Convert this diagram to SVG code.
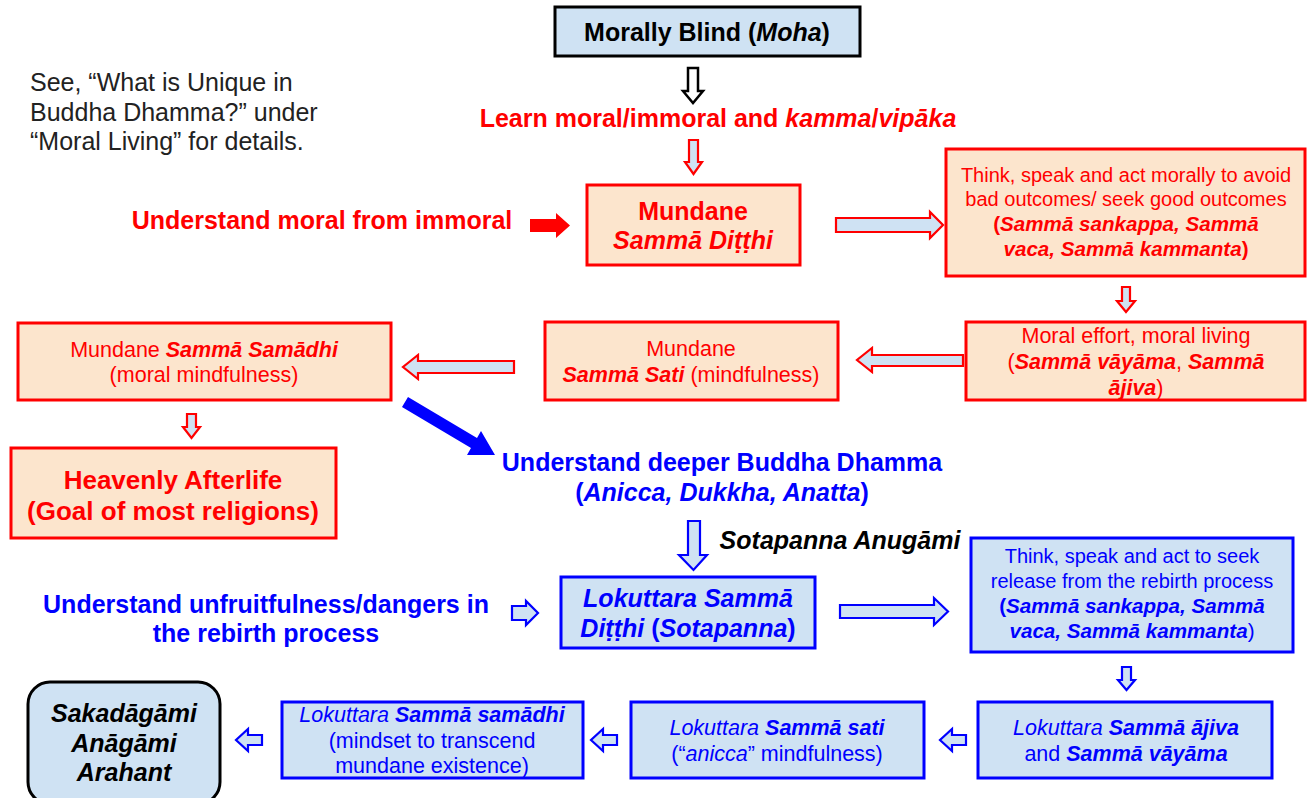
<svg xmlns="http://www.w3.org/2000/svg" width="1311" height="798" viewBox="0 0 1311 798">
<style>
text{font-family:"Liberation Sans",Arial,"DejaVu Sans",sans-serif;text-anchor:middle}
.b{font-weight:bold}
.i{font-style:italic}
.bi{font-weight:bold;font-style:italic}
.red{fill:#ff0000}
.blue{fill:#0000ff}
.blk{fill:#000000}
.L{font-size:25px}
.M{font-size:21.5px}
.S{font-size:20px}
.S2{font-size:20.6px}
.rbox{fill:#fce5cd;stroke:#ff0000;stroke-width:3}
.bbox{fill:#cfe2f3;stroke:#0000ff;stroke-width:3}
.kbox{fill:#cfe2f3;stroke:#000000;stroke-width:3}
.ra{fill:#cfe2f3;stroke:#ff0000;stroke-width:2.2;stroke-linejoin:miter}
.ba{fill:#cfe2f3;stroke:#0000ff;stroke-width:2.2;stroke-linejoin:miter}
.note{font-size:25px;text-anchor:start;fill:#222222}
</style>

<g id="note">
<text x="30" y="91" class="note">See, “What is Unique in</text>
<text x="30" y="121" class="note">Buddha Dhamma?” under</text>
<text x="30" y="150" class="note">“Moral Living” for details.</text>
</g>

<g id="moha">
<rect x="555" y="7" width="305" height="49" class="kbox"/>
<text x="707" y="41" class="L b blk">Morally Blind (<tspan class="i">Moha</tspan>)</text>
</g>

<g id="learn">
<text x="718" y="127" class="L b red">Learn moral/immoral and <tspan class="i">kamma</tspan>/<tspan class="i">vipāka</tspan></text>
</g>

<g id="understand-moral">
<text x="322" y="229" class="L b red">Understand moral from immoral</text>
</g>

<g id="mundane-ditthi">
<rect x="587" y="185" width="213" height="80" class="rbox"/>
<text x="693" y="220" class="L b red">Mundane</text>
<text x="693" y="249" class="L bi red">Sammā Diṭṭhi</text>
</g>

<g id="think-moral">
<rect x="946" y="149" width="359" height="127" class="rbox"/>
<text x="1126" y="182" class="S red">Think, speak and act morally to avoid</text>
<text x="1126" y="206" class="S red">bad outcomes/ seek good outcomes</text>
<text x="1126" y="231" class="S2 bi red"><tspan class="b" style="font-style:normal">(</tspan>Sammā sankappa, Sammā</text>
<text x="1126" y="256" class="S2 bi red">vaca, Sammā kammanta<tspan class="b" style="font-style:normal">)</tspan></text>
</g>

<g id="moral-effort">
<rect x="966" y="322" width="339" height="78" class="rbox"/>
<text x="1136" y="343" class="M red">Moral effort, moral living</text>
<text x="1136" y="369" class="M red">(<tspan class="bi">Sammā vāyāma</tspan>, <tspan class="bi">Sammā</tspan></text>
<text x="1136" y="395" class="M red"><tspan class="bi">ājiva</tspan>)</text>
</g>

<g id="mundane-sati">
<rect x="545" y="322" width="293" height="78" class="rbox"/>
<text x="691" y="356" class="M red">Mundane</text>
<text x="691" y="382" class="M red"><tspan class="bi">Sammā Sati</tspan> (mindfulness)</text>
</g>

<g id="mundane-samadhi">
<rect x="18" y="323" width="373" height="77" class="rbox"/>
<text x="204" y="357" class="M red">Mundane <tspan class="bi">Sammā Samādhi</tspan></text>
<text x="204" y="382" class="M red">(moral mindfulness)</text>
</g>

<g id="heavenly">
<rect x="11" y="448" width="325" height="90" class="rbox"/>
<text x="173" y="489" class="b red" style="font-size:26px">Heavenly Afterlife</text>
<text x="173" y="520" class="b red" style="font-size:26px">(Goal of most religions)</text>
</g>

<g id="deeper">
<text x="722" y="471" class="L b blue">Understand deeper Buddha Dhamma</text>
<text x="722" y="501" class="L b blue">(<tspan class="i">Anicca, Dukkha, Anatta</tspan>)</text>
</g>

<g id="sotapanna-anugami">
<text x="840" y="549" class="bi blk" style="font-size:25px">Sotapanna Anugāmi</text>
</g>

<g id="unfruitful">
<text x="266" y="613" class="L b blue">Understand unfruitfulness/dangers in</text>
<text x="266" y="642" class="L b blue">the rebirth process</text>
</g>

<g id="lokuttara-ditthi">
<rect x="561" y="577" width="254" height="71" class="bbox"/>
<text x="688" y="607" class="L bi blue">Lokuttara Sammā</text>
<text x="688" y="637" class="L bi blue">Diṭṭhi <tspan style="font-style:normal">(</tspan>Sotapanna<tspan style="font-style:normal">)</tspan></text>
</g>

<g id="think-release">
<rect x="971" y="538" width="322" height="114" class="bbox"/>
<text x="1132" y="563" class="S blue">Think, speak and act to seek</text>
<text x="1132" y="588" class="S blue">release from the rebirth process</text>
<text x="1132" y="613" class="S2 bi blue"><tspan style="font-style:normal">(</tspan>Sammā sankappa, Sammā</text>
<text x="1132" y="638" class="S2 bi blue">vaca, Sammā kammanta<tspan style="font-weight:normal;font-style:normal">)</tspan></text>
</g>

<g id="lokuttara-ajiva">
<rect x="978" y="702" width="294" height="76" class="bbox"/>
<text x="1126" y="735" class="M blue"><tspan class="i">Lokuttara </tspan><tspan class="bi">Sammā ājiva</tspan></text>
<text x="1126" y="761" class="M blue">and <tspan class="bi">Sammā vāyāma</tspan></text>
</g>

<g id="lokuttara-sati">
<rect x="631" y="702" width="293" height="76" class="bbox"/>
<text x="777" y="735" class="M blue"><tspan class="i">Lokuttara </tspan><tspan class="bi">Sammā sati</tspan></text>
<text x="777" y="761" class="M blue">(“<tspan class="i">anicca</tspan>” mindfulness)</text>
</g>

<g id="lokuttara-samadhi">
<rect x="282" y="702" width="301" height="76" class="bbox"/>
<text x="432" y="722" class="M blue"><tspan class="i">Lokuttara </tspan><tspan class="bi">Sammā samādhi</tspan></text>
<text x="432" y="748" class="M blue">(mindset to transcend</text>
<text x="432" y="773" class="M blue">mundane existence)</text>
</g>

<g id="arahant">
<rect x="28" y="682" width="192" height="122" rx="22" ry="22" class="kbox"/>
<text x="124" y="722" class="L bi blk">Sakadāgāmi</text>
<text x="124" y="752" class="L bi blk">Anāgāmi</text>
<text x="124" y="781" class="L bi blk">Arahant</text>
</g>

<g id="connectors">
<path d="M688,68 H698 V91 H703 L693,103 L683,91 H688 Z" fill="#ffffff" stroke="#000000" stroke-width="2.5"/>
<path d="M689,140 H698 V162 H702 L693.5,174 L685,162 H689 Z" class="ra"/>
<path d="M530,219 H556 V213 L570,225.5 L556,238 V232 H530 Z" fill="#ff0000"/>
<path d="M836,218 H930 V212 L943,225 L930,238 V232 H836 Z" class="ra"/>
<path d="M1122,287 H1130 V301 H1135 L1126,312 L1117,301 H1122 Z" class="ra"/>
<path d="M963,355 H872 V348 L857,360 L872,372 V366 H963 Z" class="ra"/>
<path d="M514,361 H418 V355 L403,367 L418,379 V373 H514 Z" class="ra"/>
<path d="M187,414 H196 V427 H200 L191.5,438 L183,427 H187 Z" class="ra"/>
<polygon points="402,407 408,397 477,438 481,431 495,455 467,455 471,448" fill="#0000ff"/>
<path d="M688,521 H700 V555 H707 L693.5,570 L679,555 H688 Z" class="ba"/>
<path d="M512,606 H526 V601 L538,613 L526,625 V620 H512 Z" class="ba"/>
<path d="M840,605 H934 V598 L948,611.5 L934,625 V618 H840 Z" class="ba"/>
<path d="M1122,667 H1131 V680 H1135 L1126.5,690 L1118,680 H1122 Z" class="ba"/>
<path d="M966,735 H952 V729 L940,740 L952,751 V745 H966 Z" class="ba"/>
<path d="M617,735 H603 V729 L591,740 L603,751 V745 H617 Z" class="ba"/>
<path d="M262,735 H248 V729 L236,740 L248,751 V745 H262 Z" class="ba"/>
</g>
</svg>
